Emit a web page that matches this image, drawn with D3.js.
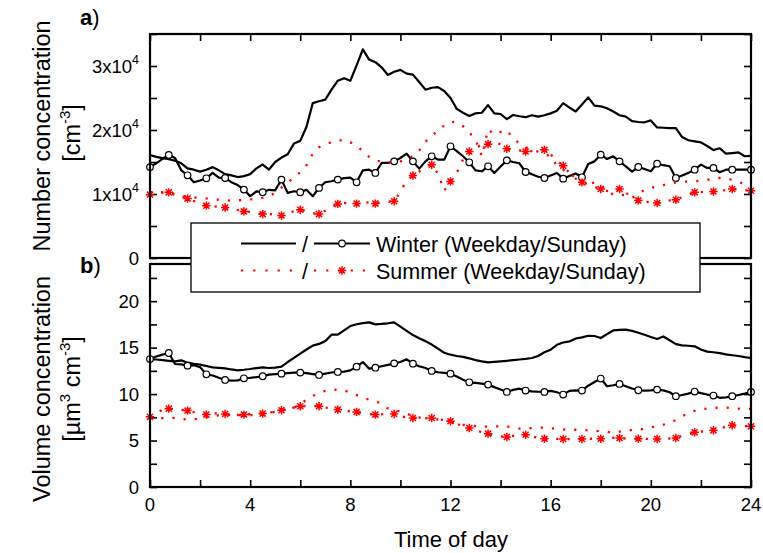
<!DOCTYPE html>
<html><head><meta charset="utf-8">
<script src="https://cdn.jsdelivr.net/npm/d3@7"></script>
<style>
body{margin:0;background:#fff;}
svg{display:block;font-family:"Liberation Sans",Arial,sans-serif;}
</style></head><body>
<svg id="chart" width="763" height="553"></svg>
<script>
// time grid (hours, 15-min steps)
const hours = d3.range(0, 24.001, 0.25);
const xTicks = [0, 4, 8, 12, 16, 20, 24];
const nTickLabels = [0, 10000, 20000, 30000];
const vTickLabels = [0, 5, 10, 15, 20];
const legendLabels = ["Winter (Weekday/Sunday)", "Summer (Weekday/Sunday)"];

// a) Number concentration [cm^-3]
const winterWeekdayN = [16100,15800,15600,15450,15200,14800,14000,13800,13500,13800,14200,13700,13100,12900,12650,12800,
 13100,14000,14600,13800,15000,15700,16200,17900,18300,20500,24200,24500,24750,26300,27700,28100,
 27700,30100,32600,31000,30600,29800,28600,29100,29400,28800,28650,27500,26300,26600,26700,26100,
 25000,23300,22700,22200,22600,22700,23900,22600,22500,21700,22350,22150,22000,22300,22100,22300,
 22600,23000,24200,23500,22900,24000,25100,23800,23700,23400,22900,22300,22100,21400,21250,21200,
 21500,20400,20350,20300,20300,18900,18400,18230,18070,17500,16850,17150,16300,16400,16500,15900,15950];
const winterSundayN = [14200,14800,15500,16100,15630,13700,12920,11830,12100,12450,13290,12550,12500,11850,11400,10690,
 9650,10400,10270,10650,10580,12250,10170,10430,10270,10650,9650,10950,11830,11990,12250,12480,
 12550,11830,13700,13800,13290,14850,14850,15100,15630,16300,15100,13960,15100,15890,15370,15370,
 17450,16700,15900,14950,13700,13550,14330,13290,14300,15260,15000,14800,13440,13100,12700,12500,
 12900,13290,12400,12800,13200,12610,14700,15100,16150,15470,15890,15100,14330,13500,14220,13900,
 13550,14740,14500,14330,12500,12900,13300,13800,14590,14070,14070,13400,13800,13800,13800,13800,13800];
const summerWeekdayN = [10300,10300,10200,10100,9900,9700,9600,9450,9400,9300,9200,9100,9050,8950,9000,9100,
 9150,9200,9400,9600,10200,11000,11800,12600,13400,14500,16300,17300,17800,18100,18300,18500,
 18100,17500,16700,15800,15300,15000,14900,14900,15100,15500,15900,16800,18200,19000,20000,20700,
 21300,21200,20600,19600,18500,15900,20100,19300,19700,20000,18700,17900,17300,16900,16600,16200,
 15900,14400,13800,13100,12600,12100,11500,11800,11300,10500,9900,9900,9800,9400,9900,10700,
 11000,11100,11400,11600,11800,11900,11950,12000,12050,12200,12400,12500,12450,12200,11900,11500,11200];
const summerSundayN = [9900,10100,10300,10260,10000,9600,9280,8900,8500,8180,8100,8000,7900,7700,7500,7280,
 7200,7000,6860,6900,6700,6650,7000,7300,7540,7300,7000,6860,7400,8000,8450,8600,
 8500,8500,8600,8700,8500,8700,8800,8860,10400,12100,12900,13500,14000,14580,13200,10500,
 11970,13300,15400,16650,17300,17600,17790,18300,17700,17060,16900,16800,16650,16700,16800,16900,
 16200,15200,14420,13300,12400,11820,11500,11100,10780,10500,10300,10780,10200,9500,9000,8800,
 8700,8600,8800,9000,9100,9500,9900,10260,10300,10350,10400,10500,10600,10780,10700,10600,10500];

// b) Volume concentration [um^3 cm^-3]
const winterWeekdayV = [13.77,13.72,13.65,13.58,13.52,13.63,13.38,13.25,13.17,13.02,12.88,12.83,12.77,12.65,12.56,12.62,
 12.70,12.80,12.88,12.81,12.85,12.95,13.45,13.90,14.35,14.80,15.22,15.40,15.70,16.39,16.39,16.85,
 17.32,17.52,17.64,17.72,17.50,17.55,17.62,17.72,17.25,16.80,16.35,16.00,15.70,15.33,14.90,14.45,
 14.24,14.10,14.00,13.85,13.66,13.52,13.42,13.47,13.52,13.58,13.65,13.72,13.78,13.88,14.10,14.50,
 14.78,15.30,15.55,15.67,15.98,16.10,16.28,16.25,16.03,16.45,16.85,16.90,16.93,16.80,16.60,16.39,
 16.15,15.92,16.20,15.80,15.38,15.25,15.20,15.14,14.80,14.57,14.50,14.40,14.27,14.18,14.10,13.98,13.88];
const winterSundayV = [13.77,14.05,14.25,14.42,13.24,13.20,13.06,13.10,12.90,12.13,12.00,11.75,11.52,11.45,11.48,11.70,
 11.75,11.82,11.92,12.10,12.15,12.20,12.25,12.30,12.31,12.25,12.15,12.06,12.20,12.32,12.38,12.42,
 12.55,12.95,13.45,12.74,12.84,13.00,13.15,13.31,13.45,13.74,13.27,13.00,12.80,12.49,12.35,12.28,
 12.20,11.90,11.55,11.27,11.20,11.12,11.02,10.75,10.50,10.23,10.45,10.59,10.38,10.30,10.25,10.23,
 10.35,10.20,9.95,10.35,10.40,10.38,10.90,11.30,11.67,10.84,10.95,11.09,10.85,10.60,10.41,10.38,
 10.40,10.48,10.40,10.20,9.77,9.90,10.05,10.27,10.10,9.95,9.84,9.60,9.65,9.77,9.90,10.05,10.23];
const summerWeekdayV = [7.40,7.40,7.42,7.43,7.43,7.35,7.25,7.30,7.35,7.50,7.63,7.70,7.72,7.78,7.75,7.68,
 7.72,7.79,7.88,7.97,8.10,8.26,8.40,8.55,8.80,9.45,9.80,10.10,10.35,10.44,10.48,10.40,
 10.15,9.90,9.60,9.40,9.25,8.95,8.45,8.25,8.15,7.90,7.60,7.48,7.40,7.35,7.30,7.20,
 7.00,6.85,6.70,6.60,6.55,6.50,6.50,6.52,6.52,6.52,6.40,6.28,6.30,6.34,6.38,6.40,
 6.32,6.27,6.20,6.16,6.16,6.15,6.10,6.05,6.00,5.95,5.82,5.95,6.10,6.13,6.16,6.28,
 6.41,6.55,6.70,6.90,7.20,7.60,7.95,8.20,8.35,8.45,8.50,8.57,8.55,8.45,8.43,8.43,8.40];
const summerSundayV = [7.55,8.00,8.30,8.43,8.40,8.30,8.22,8.05,7.90,7.79,7.90,7.95,7.86,7.80,7.75,7.79,
 7.85,7.90,7.90,8.00,8.10,8.26,8.40,8.55,8.69,8.70,8.72,8.69,8.55,8.45,8.33,8.20,
 8.15,8.08,7.95,7.85,7.79,7.82,7.88,7.86,7.60,7.50,7.43,7.45,7.40,7.43,7.25,7.15,
 7.07,6.80,6.55,6.35,6.10,5.90,5.74,5.55,5.45,5.38,5.50,5.60,5.63,5.45,5.30,5.20,
 5.18,5.17,5.16,5.15,5.15,5.16,5.18,5.20,5.20,5.25,5.30,5.27,5.22,5.20,5.20,5.18,
 5.16,5.16,5.18,5.22,5.27,5.50,5.70,5.88,5.95,6.02,6.10,6.30,6.50,6.64,6.60,6.55,6.53];

const svg = d3.select("#chart");
const L = 150, R = 751;
const x = d3.scaleLinear().domain([0, 24]).range([L, R]);
const yN = d3.scaleLinear().domain([0, 35000]).range([258, 34]);
const yV = d3.scaleLinear().domain([0, 24]).range([487, 264]);
const RED = "#ff0000";
const TK = 7;
const TICKFONT = 18.5;

function starPath(s){
  const d = s * 0.72;
  return `M${-s},0H${s}M0,${-s}V${s}M${-d},${-d}L${d},${d}M${-d},${d}L${d},${-d}`;
}

function drawPanel(y, series, opts){
  const g = svg.append("g");
  const axisStyle = sel => { sel.select(".domain").remove(); sel.selectAll("line").attr("stroke","#000").attr("stroke-width",1.6); sel.selectAll("text").remove(); };
  g.append("g").attr("transform",`translate(${L},0)`)
    .call(d3.axisLeft(y).tickValues(opts.yMinor).tickSize(-TK)).call(axisStyle);
  g.append("g").attr("transform",`translate(${R},0)`)
    .call(d3.axisRight(y).tickValues(opts.yMinor).tickSize(-TK)).call(axisStyle);
  if (opts.xTop) {
    g.append("g").attr("transform",`translate(0,${y.range()[1]})`)
      .call(d3.axisTop(x).tickValues(d3.range(0,25,2)).tickSize(-TK)).call(axisStyle);
  } else {
    g.append("g").attr("transform",`translate(0,${y.range()[0]})`)
      .call(d3.axisBottom(x).tickValues(d3.range(0,25,2)).tickSize(-TK)).call(axisStyle);
  }
  const line = d3.line().x((d,i)=>x(hours[i])).y(d=>y(d));
  series.forEach(s => {
    g.append("path").datum(s.values).attr("d", line)
      .attr("fill","none").attr("stroke", s.color).attr("stroke-width", s.dotted ? 2.3 : 2.2)
      .attr("stroke-linejoin","round")
      .attr("stroke-dasharray", s.dotted ? "2.2,9" : null);
    if (s.marker) {
      const pts = s.values.map((v,i)=>({h:hours[i], v})).filter((d,i)=>i%3===0);
      if (s.marker === "circle") {
        g.selectAll(null).data(pts).enter().append("circle")
          .attr("cx",d=>x(d.h)).attr("cy",d=>y(d.v)).attr("r",3.3)
          .attr("fill","#fff").attr("stroke","#000").attr("stroke-width",1.2);
      } else {
        g.selectAll(null).data(pts).enter().append("path")
          .attr("transform",d=>`translate(${x(d.h)},${y(d.v)})`)
          .attr("d", starPath(4.2)).attr("stroke",RED).attr("stroke-width",1.5).attr("fill","none");
      }
    }
  });
  g.append("rect").attr("x",L).attr("y",y.range()[1]).attr("width",R-L).attr("height",y.range()[0]-y.range()[1])
    .attr("fill","none").attr("stroke","#000").attr("stroke-width",2.2);
  return g;
}

drawPanel(yN, [
  {values: winterWeekdayN, color:"#000"},
  {values: winterSundayN, color:"#000", marker:"circle"},
  {values: summerWeekdayN, color:RED, dotted:true},
  {values: summerSundayN, color:RED, dotted:true, marker:"star"}
], {yMinor: d3.range(0, 35001, 5000), xTop:true});

drawPanel(yV, [
  {values: winterWeekdayV, color:"#000"},
  {values: winterSundayV, color:"#000", marker:"circle"},
  {values: summerWeekdayV, color:RED, dotted:true},
  {values: summerSundayV, color:RED, dotted:true, marker:"star"}
], {yMinor: d3.range(0, 24.1, 2.5), xTop:false});

// y tick labels
nTickLabels.forEach(v => {
  const t = svg.append("text").attr("x",139).attr("y",yN(v)+6.5).attr("text-anchor","end")
    .attr("font-size",TICKFONT).attr("fill","#000");
  if (v === 0) { t.text("0"); }
  else {
    t.append("tspan").text(`${v/10000}x10`);
    t.append("tspan").attr("dy",-8.5).attr("font-size",12.5).text("4");
  }
});
vTickLabels.forEach(v => {
  svg.append("text").attr("x",139).attr("y",yV(v)+6.5).attr("text-anchor","end")
    .attr("font-size",TICKFONT).text(v);
});
xTicks.forEach(h => {
  svg.append("text").attr("x",x(h)).attr("y",511).attr("text-anchor","middle")
    .attr("font-size",TICKFONT).text(h);
});
svg.append("text").attr("x",451).attr("y",547).attr("text-anchor","middle").attr("font-size",22).text("Time of day");

// y titles
function rotText(cx, cy, build){
  const t = svg.append("text").attr("transform",`translate(${cx},${cy}) rotate(-90)`).attr("text-anchor","middle").attr("font-size",23.5);
  build(t);
}
rotText(50, 136, t => t.text("Number concentration"));
rotText(80, 133, t => { t.append("tspan").text("[cm"); t.append("tspan").attr("dy",-10).attr("font-size",15).text("-3"); t.append("tspan").attr("dy",10).text("]"); });
rotText(50, 389, t => t.text("Volume concentration"));
rotText(80, 389, t => {
  t.append("tspan").text("[\u00b5m");
  t.append("tspan").attr("dy",-10).attr("font-size",15).text("3");
  t.append("tspan").attr("dy",10).text(" cm");
  t.append("tspan").attr("dy",-10).attr("font-size",15).text("-3");
  t.append("tspan").attr("dy",10).text("]");
});

// panel letters
[["a",25],["b",273]].forEach(([c,yy]) => {
  const t = svg.append("text").attr("x",80).attr("y",yy).attr("font-size",22);
  t.append("tspan").attr("font-weight","bold").text(c);
  t.append("tspan").text(")");
});

// legend
const lg = svg.append("g");
lg.append("rect").attr("x",191).attr("y",223).attr("width",509).attr("height",69)
  .attr("fill","#fff").attr("stroke","#000").attr("stroke-width",1.3);
const rows = [
  {y:243.5, color:"#000", dotted:false, marker:"circle", label:legendLabels[0]},
  {y:270.5, color:RED, dotted:true, marker:"star", label:legendLabels[1]}
];
rows.forEach(r => {
  [[241,296],[314,370]].forEach(([a,b]) => {
    lg.append("line").attr("x1",a).attr("x2",b).attr("y1",r.y).attr("y2",r.y)
      .attr("stroke",r.color).attr("stroke-width",2.2).attr("stroke-dasharray", r.dotted ? "2.2,10" : null);
  });
  lg.append("text").attr("x",305).attr("y",r.y+8).attr("text-anchor","middle").attr("font-size",21.5).text("/");
  if (r.marker === "circle") {
    lg.append("circle").attr("cx",342).attr("cy",r.y).attr("r",3.3).attr("fill","#fff").attr("stroke","#000").attr("stroke-width",1.2);
  } else {
    lg.append("path").attr("transform",`translate(342,${r.y})`).attr("d",starPath(4.2)).attr("stroke",RED).attr("stroke-width",1.5);
  }
  lg.append("text").attr("x",376).attr("y",r.y+8).attr("font-size",21.5).text(r.label);
});
</script>
</body></html>
